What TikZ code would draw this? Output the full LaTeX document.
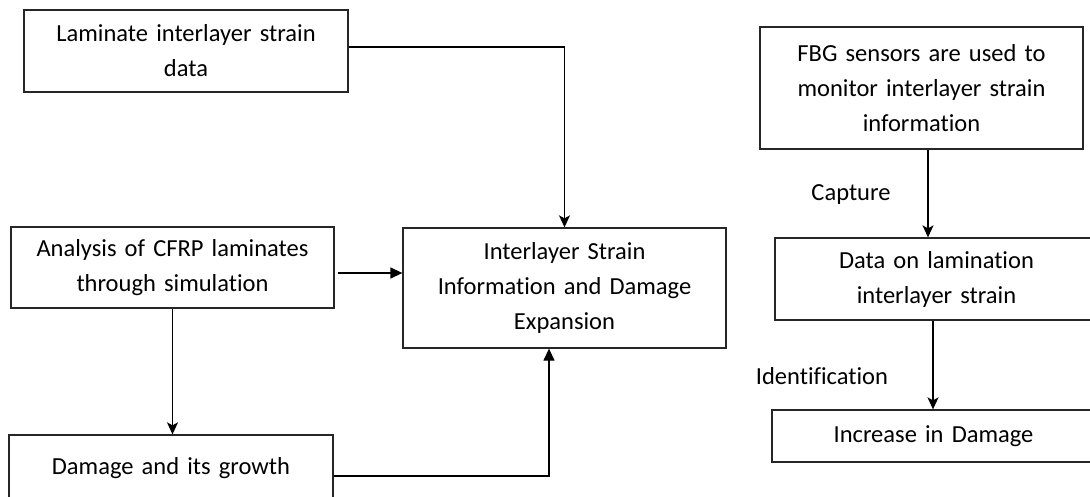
\documentclass[tikz,border=0pt]{standalone}
\usepackage{fontspec}
\setmainfont{Carlito}[Ligatures={NoCommon}]
\usetikzlibrary{arrows.meta}
\begin{document}
\begin{tikzpicture}[x=1pt,y=-1pt,
  box/.style args={#1/#2}{draw=black!85, line width=1.3pt, inner sep=0pt,
    text width=#1pt, minimum height=#2pt, align=center,
    font=\fontsize{24.5}{35}\selectfont},
  lbl/.style={inner sep=0pt, font=\fontsize{24.5}{35}\selectfont},
  arr/.style={line width=1.3pt, -{Stealth[length=12pt,width=11pt,inset=3pt]}},
  arrT/.style={line width=1.3pt, -{Triangle[length=12pt,width=11pt]}}]
\useasboundingbox (0,0) rectangle (1090,497);
\clip (0,0) rectangle (1090,497);
\fill[white] (0,0) rectangle (1090,497);

\node[box=324/82] (box1) at (186,51) {Laminate interlayer strain\\data};
\node[box=323/81] (ana) at (172.5,267.5) {Analysis of CFRP laminates\\through simulation};
\node[box=323/120] (inter) at (564.5,288) {Interlayer Strain\\Information and Damage\\Expansion};
\node[box=324/66] (dmg) at (171,468) {Damage and its growth};
\node[box=323/122] (fbg) at (921.5,88) {FBG sensors are used to\\monitor interlayer strain\\information};
\node[box=323/82] (data) at (936.5,279) {Data on lamination\\interlayer strain};
\node[box=323/52] (inc) at (933.5,436) {Increase in Damage};

\node[lbl] (cap) at (851,195) {Capture};
\node[lbl] (idf) at (822,376) {Identification};

\coordinate (b1) at ([yshift=4pt]box1.east);
\draw[arr] (b1) -| (inter.north);
\coordinate (a1) at ([xshift=3pt,yshift=-5.5pt]ana.east);
\draw[arrT] (a1) -- (a1 -| inter.west);
\draw[arr] (ana.south) -- (dmg.north -| ana.south);
\coordinate (d1) at ([yshift=-8pt]dmg.east);
\coordinate (i1) at ([xshift=-15.5pt]inter.south);
\draw[arrT] (d1) -| (i1);
\coordinate (f1) at ([xshift=6.5pt]fbg.south);
\draw[arr] (f1) -- (f1 |- data.north);
\coordinate (g1) at ([xshift=-3.5pt]data.south);
\draw[arr] (g1) -- (g1 |- inc.north);
\end{tikzpicture}
\end{document}
